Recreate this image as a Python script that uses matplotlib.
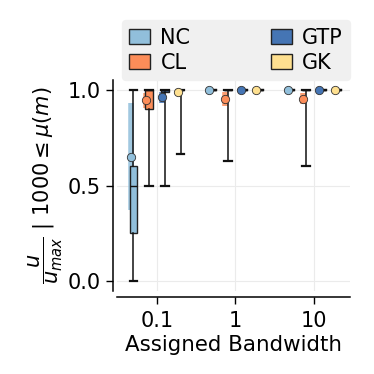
import matplotlib
matplotlib.use("Agg")
import matplotlib.pyplot as plt
from matplotlib.patches import Patch
import numpy as np

categories = ["0.1", "1", "10"]
groups = ["NC", "CL", "GTP", "GK"]
colors = {"NC": "#91bfdb", "CL": "#fc8d59", "GTP": "#4575b4", "GK": "#fee090"}

# box statistics per group across categories
q1 = {"NC": [0.25, 1.0, 1.0], "CL": [0.90, 1.0, 1.0], "GTP": [0.99, 1.0, 1.0], "GK": [1.0, 1.0, 1.0]}
med = {"NC": [0.50, 1.0, 1.0], "CL": [1.0, 1.0, 1.0], "GTP": [1.0, 1.0, 1.0], "GK": [1.0, 1.0, 1.0]}
q3 = {"NC": [0.60, 1.0, 1.0], "CL": [1.0, 1.0, 1.0], "GTP": [1.0, 1.0, 1.0], "GK": [1.0, 1.0, 1.0]}
whislo = {"NC": [0.0, 1.0, 1.0], "CL": [0.50, 0.627, 0.60], "GTP": [0.50, 1.0, 1.0], "GK": [0.667, 1.0, 1.0]}
whishi = {"NC": [1.0, 1.0, 1.0], "CL": [1.0, 1.0, 1.0], "GTP": [1.0, 1.0, 1.0], "GK": [1.0, 1.0, 1.0]}
means = {"NC": [0.651, 1.0, 1.0], "CL": [0.946, 0.953, 0.955], "GTP": [0.962, 1.0, 1.0], "GK": [0.988, 1.0, 1.0]}
sd = {"NC": [0.28, 0.0, 0.0], "CL": [0.04, 0.035, 0.028], "GTP": [0.03, 0.0, 0.0], "GK": [0.01, 0.0, 0.0]}

fig = plt.figure(figsize=(3.74, 3.74), dpi=100)
ax = fig.add_axes([0.3128, 0.2219, 0.623, 0.5641])

offsets = [-0.3, -0.1, 0.1, 0.3]
mshift = -0.035
boxw = 0.10
xc = np.arange(len(categories))
fs = 15

for gi, g in enumerate(groups):
    pos = xc + offsets[gi]
    stats = []
    for i in range(len(categories)):
        stats.append(dict(med=med[g][i], q1=q1[g][i], q3=q3[g][i],
                          whislo=whislo[g][i], whishi=whishi[g][i], fliers=[]))
    ax.bxp(stats, positions=pos, widths=boxw, patch_artist=True, showfliers=False,
           boxprops=dict(facecolor=colors[g], edgecolor="#222222", linewidth=1.0),
           medianprops=dict(color="#111111", linewidth=1.0),
           whiskerprops=dict(color="#111111", linewidth=1.1),
           capprops=dict(color="#111111", linewidth=1.6),
           capwidths=boxw, manage_ticks=False, zorder=3)
    m = np.array(means[g])
    s = np.array(sd[g])
    ax.vlines(pos + mshift, m - s, np.minimum(m + s, 1.0), color=colors[g],
              linewidth=4, alpha=0.85, zorder=2)
    ax.plot(pos + mshift, m, linestyle="none", marker="o", markersize=6,
            markerfacecolor=colors[g], markeredgecolor="#333333",
            markeredgewidth=0.6, zorder=5)

ax.set_xlim(-0.51, 2.46)
ax.set_ylim(-0.052, 1.052)
ax.set_xticks(xc)
ax.set_xticklabels(categories)
ax.set_yticks([0.0, 0.5, 1.0])
ax.set_yticklabels(["0.0", "0.5", "1.0"])
ax.tick_params(labelsize=fs, length=5, width=1)
ax.tick_params(axis="x", pad=5)
ax.grid(True, color="#ebebeb", linewidth=0.8, zorder=0)
ax.set_axisbelow(True)
for sp in ["top", "right"]:
    ax.spines[sp].set_visible(False)
ax.spines["left"].set_position(("outward", 3))
ax.spines["bottom"].set_position(("outward", 4.5))
ax.spines["left"].set_linewidth(1.1)
ax.spines["bottom"].set_linewidth(1.1)
ax.set_xlabel("Assigned Bandwidth", fontsize=15.4, labelpad=3)
ax.set_ylabel(r"$\dfrac{u}{u_{max}}$ | 1000$\leq\mu(m)$", fontsize=fs, labelpad=2)

handles = [Patch(facecolor=colors[g], edgecolor="#222222", linewidth=1.0, label=g) for g in groups]
leg = ax.legend(handles=handles, ncol=2,
                loc="lower left", bbox_to_anchor=(0.021, 1.0, 0.979, 0.27),
                mode="expand", borderaxespad=0, fontsize=fs, frameon=True,
                fancybox=True, handlelength=1.0, handleheight=0.75,
                handletextpad=0.5, labelspacing=0.25, borderpad=0.35)
leg.get_frame().set_facecolor("#f0f0f0")
leg.get_frame().set_edgecolor("#f0f0f0")
leg.get_frame().set_alpha(1)

fig.savefig("out.png", dpi=100)
